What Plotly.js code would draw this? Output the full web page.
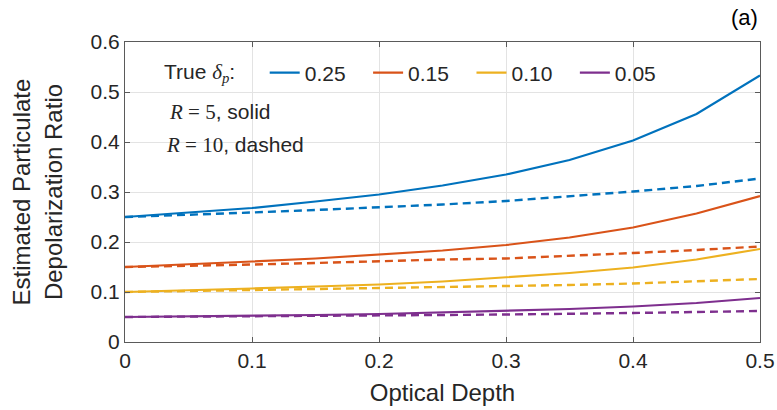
<!DOCTYPE html>
<html>
<head>
<meta charset="utf-8">
<script src="https://cdn.plot.ly/plotly-3.0.1.min.js"></script>
<style>html,body{margin:0;padding:0;background:#fff;}#chart{width:777px;height:410px;}</style>
</head>
<body>
<div id="chart"></div>
<script>
// Optical depth
const opticalDepth = [0, 0.05, 0.1, 0.15, 0.2, 0.25, 0.3, 0.35, 0.4, 0.45, 0.5];
// Series labels (true particulate depolarization ratio)
const seriesLabels = ["0.25", "0.15", "0.10", "0.05"];
const seriesColors = ["#0072BD", "#D95319", "#EDB120", "#7E2F8E"];
// R = 5 (solid)
const solid025 = [0.25, 0.259, 0.268, 0.281, 0.295, 0.313, 0.335, 0.364, 0.403, 0.456, 0.533];
const solid015 = [0.15, 0.155, 0.161, 0.167, 0.175, 0.183, 0.194, 0.209, 0.229, 0.257, 0.292];
const solid010 = [0.10, 0.103, 0.107, 0.111, 0.115, 0.121, 0.129, 0.138, 0.149, 0.165, 0.186];
const solid005 = [0.05, 0.051, 0.052, 0.054, 0.056, 0.059, 0.062, 0.066, 0.071, 0.078, 0.088];
// R = 10 (dashed)
const dashed025 = [0.25, 0.254, 0.259, 0.264, 0.269, 0.275, 0.282, 0.291, 0.301, 0.312, 0.327];
const dashed015 = [0.15, 0.152, 0.155, 0.158, 0.162, 0.165, 0.167, 0.172, 0.178, 0.184, 0.191];
const dashed010 = [0.10, 0.102, 0.104, 0.106, 0.107, 0.109, 0.111, 0.114, 0.117, 0.121, 0.126];
const dashed005 = [0.05, 0.0505, 0.051, 0.052, 0.053, 0.054, 0.055, 0.056, 0.058, 0.060, 0.062];
// Axis ticks
const xTicks = [0, 0.1, 0.2, 0.3, 0.4, 0.5];
const yTicks = [0, 0.1, 0.2, 0.3, 0.4, 0.5, 0.6];

const solidSeries = [solid025, solid015, solid010, solid005];
const dashedSeries = [dashed025, dashed015, dashed010, dashed005];

const pad = '\u00a0\u00a0\u00a0';
const traces = [];
solidSeries.forEach((ys, i) => {
  traces.push({x: opticalDepth, y: ys, type: 'scatter', mode: 'lines', name: seriesLabels[i] + pad,
    line: {color: seriesColors[i], width: 2.2}, showlegend: true});
});
dashedSeries.forEach((ys, i) => {
  traces.push({x: opticalDepth, y: ys, type: 'scatter', mode: 'lines', name: seriesLabels[i] + ' (R=10)',
    line: {color: seriesColors[i], width: 2.4, dash: '8px,5px'}, showlegend: false});
});

const txt = '#262626';
const fam = 'Liberation Sans, Arial, sans-serif';
const font = {family: fam, size: 21, color: txt};
const serif = 'font-family:Liberation Serif,Times New Roman,serif';

const layout = {
  width: 777, height: 410,
  margin: {l: 125, r: 17, t: 42, b: 68},
  paper_bgcolor: '#fff', plot_bgcolor: '#fff',
  font: font,
  showlegend: true,
  legend: {orientation: 'h', x: 0.22, y: 0.897, xanchor: 'left', yanchor: 'middle',
    font: {family: fam, size: 21, color: txt}, bgcolor: 'rgba(0,0,0,0)',
    itemwidth: 30, tracegroupgap: 0},
  xaxis: {range: [0, 0.5], tickvals: xTicks, ticktext: xTicks.map(v => String(v)),
    showgrid: true, gridcolor: '#e3e3e3', gridwidth: 1, zeroline: false,
    showline: true, linecolor: '#5a5a5a', linewidth: 1, mirror: 'ticks',
    ticks: 'inside', ticklen: 5, tickcolor: '#5a5a5a',
    tickfont: {family: fam, size: 21, color: txt},
    title: {text: 'Optical Depth', font: {family: fam, size: 24, color: txt}, standoff: 12}},
  yaxis: {range: [0, 0.6], tickvals: yTicks, ticktext: yTicks.map(v => String(v)),
    showgrid: true, gridcolor: '#e3e3e3', gridwidth: 1, zeroline: false,
    showline: true, linecolor: '#5a5a5a', linewidth: 1, mirror: 'ticks',
    ticks: 'inside', ticklen: 5, tickcolor: '#5a5a5a',
    tickfont: {family: fam, size: 21, color: txt},
    title: {text: 'Estimated Particulate<br>Depolarization Ratio', font: {family: fam, size: 24, color: txt}, standoff: 21}},
  annotations: [
    {xref: 'paper', yref: 'paper', x: 0.058, y: 0.897, xanchor: 'left', yanchor: 'middle', showarrow: false,
     text: 'True <span style="' + serif + '"><i>δ<sub>p</sub></i></span>:', font: {family: fam, size: 21, color: txt}},
    {xref: 'paper', yref: 'paper', x: 0.066, y: 0.767, xanchor: 'left', yanchor: 'middle', showarrow: false,
     text: '<span style="' + serif + '"><i>R</i> = 5</span>, solid', font: {family: fam, size: 21, color: txt}},
    {xref: 'paper', yref: 'paper', x: 0.062, y: 0.657, xanchor: 'left', yanchor: 'middle', showarrow: false,
     text: '<span style="' + serif + '"><i>R</i> = 10</span>, dashed', font: {family: fam, size: 21, color: txt}},
    {xref: 'paper', yref: 'paper', x: 1.0, y: 1.08, xanchor: 'right', yanchor: 'middle', showarrow: false,
     text: '(a)', font: {family: fam, size: 22, color: '#000'}}
  ]
};

Plotly.newPlot('chart', traces, layout, {displayModeBar: false, staticPlot: true});
</script>
</body>
</html>
